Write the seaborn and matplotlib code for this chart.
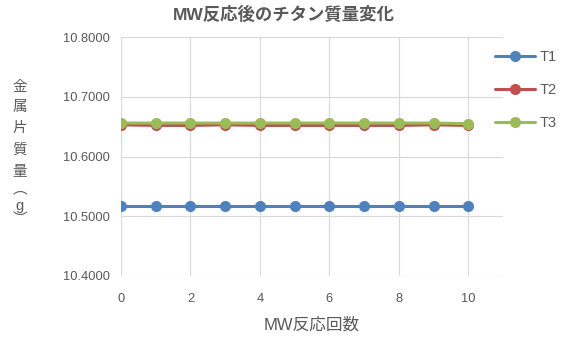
import matplotlib
matplotlib.use("Agg")
import matplotlib.pyplot as plt
import seaborn as sns
import pandas as pd

# Mass of titanium pieces (g) after each microwave reaction run
runs = [0, 1, 2, 3, 4, 5, 6, 7, 8, 9, 10]
t1 = [10.517, 10.517, 10.517, 10.517, 10.517, 10.517, 10.517, 10.517, 10.517, 10.517, 10.517]
t2 = [10.653, 10.652, 10.652, 10.653, 10.652, 10.652, 10.652, 10.652, 10.652, 10.653, 10.652]
t3 = [10.656, 10.656, 10.656, 10.656, 10.656, 10.656, 10.656, 10.656, 10.656, 10.656, 10.655]
series_names = ["T1", "T2", "T3"]
colors = ["#4F81BD", "#C0504D", "#9BBB59"]
y_ticks = [10.4, 10.5, 10.6, 10.7, 10.8]
x_ticks = [0, 2, 4, 6, 8, 10]

title = "MW反応後のチタン質量変化"
x_label = "MW反応回数"
y_label_chars = ["金", "属", "片", "質", "量", "︵", "g", "︶"]

sns.set_theme(style="white")
plt.rcParams["font.family"] = ["Liberation Sans", "Noto Sans CJK JP", "DejaVu Sans"]

text_grey = "#595959"

df = pd.concat(
    [pd.DataFrame({"run": runs, "mass": vals, "series": name})
     for name, vals in zip(series_names, [t1, t2, t3])],
    ignore_index=True,
)

fig = plt.figure(figsize=(5.66, 3.38), dpi=100)
ax = fig.add_axes([121 / 566, 1 - 276 / 338, (503 - 121) / 566, (276 - 37) / 338])

sns.lineplot(
    data=df, x="run", y="mass", hue="series", palette=colors,
    marker="o", markersize=8, markeredgewidth=0, linewidth=2.2, ax=ax,
)

ax.set_xlim(0, 11)
ax.set_ylim(10.4, 10.8)
ax.set_xticks(x_ticks)
ax.set_yticks(y_ticks)
ax.set_yticklabels([f"{v:.4f}" for v in y_ticks])
ax.tick_params(axis="both", length=0, labelsize=9.3, labelcolor=text_grey)
ax.tick_params(axis="y", pad=8)
ax.tick_params(axis="x", pad=12)
ax.grid(True, color="#D9D9D9", linewidth=0.8)
for s in ax.spines.values():
    s.set_visible(False)
ax.set_xlabel(x_label, fontsize=12, color=text_grey, labelpad=9)
ax.set_ylabel("")

fig.text(284 / 566, 1 - 14 / 338, title, ha="center", va="center",
         fontsize=12.5, fontweight="bold", color=text_grey)

# vertical stacked y-axis label
y_pos = [87, 107, 128, 150, 172, 189, 206, 219]
for ch, yp in zip(y_label_chars, y_pos):
    fig.text(20 / 566, 1 - yp / 338, ch, ha="center", va="center",
             fontsize=10.5, color=text_grey)

handles, labels = ax.get_legend_handles_labels()
ax.legend(handles, labels, loc="upper left", bbox_to_anchor=(495 / 566, 1 - 50 / 338),
          bbox_transform=fig.transFigure, frameon=False, fontsize=10.5,
          labelcolor=text_grey, handlelength=2.75, handletextpad=0.3,
          labelspacing=1.3, borderaxespad=0, borderpad=0)

fig.savefig("out.png", dpi=100)
